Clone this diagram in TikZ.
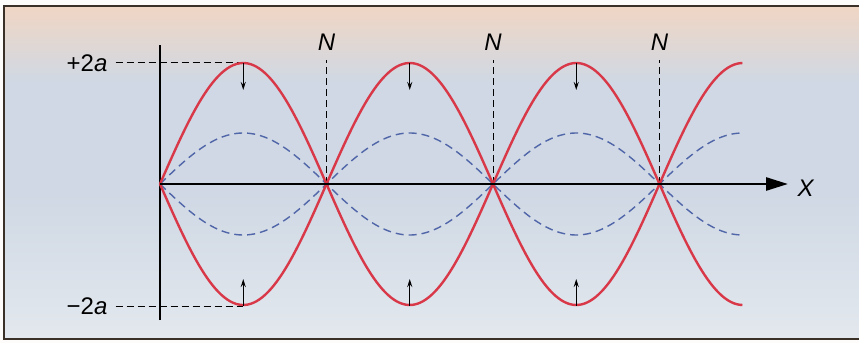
\documentclass[tikz,border=0pt]{standalone}
\usepackage{fontspec}
\setmainfont{Liberation Sans}
\usetikzlibrary{arrows.meta}
\definecolor{wred}{HTML}{D83848}
\definecolor{wblue}{HTML}{5066A8}
\definecolor{bgtop}{HTML}{F0D6C4}
\definecolor{bgmid}{HTML}{CFD8E4}
\definecolor{bgbot}{HTML}{E3E8EE}
\definecolor{framec}{HTML}{3A3028}
\tikzset{
  redwave/.style={wred, line width=2.4pt},
  bluewave/.style={wblue, line width=1.4pt, dash pattern=on 8pt off 5pt},
  guide/.style={black, line width=1pt, dash pattern=on 7pt off 4pt},
  lbl/.style={font=\fontsize{24}{28}\selectfont, inner sep=0pt},
  motion/.style={black, line width=1.1pt, -{Stealth[length=8pt,width=5pt]}},
}
\begin{document}
\begin{tikzpicture}[x=1pt,y=1pt]
\useasboundingbox (0,0) rectangle (859,343);
\fill[white!94!bgtop] (0,0) rectangle (859,343);
\shade[top color=bgtop, bottom color=bgmid] (4,260) rectangle (859,337);
\shade[top color=bgmid, bottom color=bgmid] (4,150) rectangle (859,260.5);
\shade[top color=bgmid, bottom color=bgbot] (4,4) rectangle (859,150.5);
\draw[framec, line width=1.2pt] (859,337) -- (4,337) -- (4,4) -- (859,4);

% axes
\coordinate (O) at (160,159);
\coordinate (xend) at (788,159);
\coordinate (ytop) at (160,298);
\coordinate (ybot) at (160,23);
\draw[black, line width=2pt] (ybot) -- (ytop);

% amplitude guides
\node[lbl] (plus) at (87,280) {+2\textit{a}};
\node[lbl] (minus) at (87,37) {\textminus2\textit{a}};
\coordinate (p1) at (243.25,280);
\coordinate (m1) at (243.25,37);
\draw[guide] (plus.east) ++(8,0) -- (p1);
\draw[guide] (minus.east) ++(8,0) -- (m1);

% node markers
\foreach \k/\nm in {1/N1,2/N2,3/N3}{
  \coordinate (\nm b) at ({160+166.5*\k},159);
  \node[lbl] (\nm) at ({160+166.5*\k},301) {\textit{N}};
  \draw[guide] (\nm b) -- ({160+166.5*\k},283);
}

% waves
\draw[bluewave] plot[domain=0:3.5, samples=200] ({160+166.5*\x},{159+51*sin(180*\x)});
\draw[bluewave] plot[domain=0:3.5, samples=200] ({160+166.5*\x},{159-51*sin(180*\x)});
\draw[redwave] plot[domain=0:3.5, samples=200] ({160+166.5*\x},{159+121*sin(180*\x)});
\draw[redwave] plot[domain=0:3.5, samples=200] ({160+166.5*\x},{159-121*sin(180*\x)});

% x axis
\draw[black, line width=2.6pt, -{Triangle[length=22pt,width=13pt]}] (O) -- (xend);
\node[lbl] (X) at (806,155) {\textit{X}};

% motion arrows
\foreach \k in {0,1,2}{
  \coordinate (t\k) at ({243.25+166.5*\k},280);
  \coordinate (b\k) at ({243.25+166.5*\k},37);
  \draw[motion] (t\k) -- ++(0,-27);
  \draw[motion] (b\k) -- ++(0,27);
}
\end{tikzpicture}
\end{document}
